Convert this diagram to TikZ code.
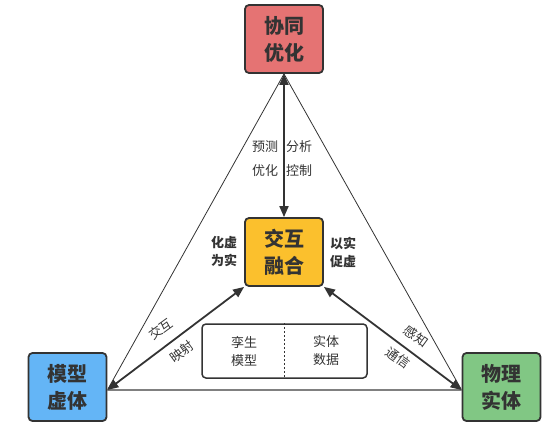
\documentclass[tikz,border=0pt]{standalone}
\usepackage{fontspec}
\setmainfont{Noto Sans CJK SC}
\usetikzlibrary{arrows.meta}
\definecolor{boxline}{HTML}{333333}
\definecolor{txt}{HTML}{333333}
\definecolor{cred}{HTML}{E57373}
\definecolor{cyel}{HTML}{FBC02D}
\definecolor{cblue}{HTML}{64B5F6}
\definecolor{cgreen}{HTML}{81C784}
\definecolor{cgray}{HTML}{808080}
\begin{document}
\begin{tikzpicture}[x=1pt,y=-1pt,
  bigbox/.style={draw=boxline, line width=1.8pt, rounded corners=4pt,
    minimum width=78pt, minimum height=68pt, inner sep=0pt, align=center,
    font=\fontsize{20}{27}\selectfont\bfseries, text=txt},
  lbl/.style={inner sep=0pt, align=center, font=\fontsize{13}{18}\selectfont, text=txt},
  blbl/.style={lbl, font=\fontsize{13}{18}\selectfont\bfseries},
  thick arrow/.style={draw=boxline, line width=1.8pt,
    {Triangle[length=11pt,width=9pt]}-{Triangle[length=11pt,width=9pt]}},
  thin line/.style={draw=boxline, line width=0.8pt}
]
\useasboundingbox (0,0) rectangle (550,431);

\node[bigbox, fill=cred]   (top)   at (284,39)    {协同\\优化};
\node[bigbox, fill=cyel]   (mid)   at (284,252)   {交互\\融合};
\node[bigbox, fill=cblue]  (left)  at (67.5,387)  {模型\\虚体};
\node[bigbox, fill=cgreen] (right) at (501.5,387) {物理\\实体};

\coordinate (lend) at ([yshift=-3pt]left.east);
\coordinate (rend) at ([yshift=-3pt]right.west);

% thin triangle sides
\draw[thin line] (top.south) -- (lend);
\draw[thin line] (top.south) -- (rend);
% bottom side
\draw[draw=cgray, line width=1.5pt] (lend) -- (rend);

% thick arrows
\draw[thick arrow] (top.south) -- (mid.north);
\draw[thick arrow] (mid.south west) -- (lend);
\draw[thick arrow] (mid.south east) -- (rend);

% inner box
\node[draw=boxline, line width=1.5pt, rounded corners=4pt, fill=white,
  minimum width=165pt, minimum height=54pt, inner sep=0pt] (inner) at (284.5,351) {};
\draw[boxline, line width=1.5pt, dash pattern=on 2pt off 2pt] (inner.north) -- (inner.south);
\node[lbl] (twin) at (244,351) {孪生\\模型};
\node[lbl] (data) at (326,351) {实体\\数据};

% top labels
\node[lbl] (l1) at (265,147) {预测};
\node[lbl] (l2) at (299,147) {分析};
\node[lbl] (l3) at (265,171) {优化};
\node[lbl] (l4) at (299,171) {控制};

% side labels
\node[blbl] (hx) at (224,252) {化虚\\为实};
\node[blbl] (ys) at (343,252) {以实\\促虚};

% diagonal labels
\node[lbl, rotate=36] (jh) at (161,329) {交互};
\node[lbl, rotate=36] (ys2) at (182,352) {映射};
\node[lbl, rotate=-36] (gz) at (416,336) {感知};
\node[lbl, rotate=-36] (tx) at (398,358) {通信};
\end{tikzpicture}
\end{document}
